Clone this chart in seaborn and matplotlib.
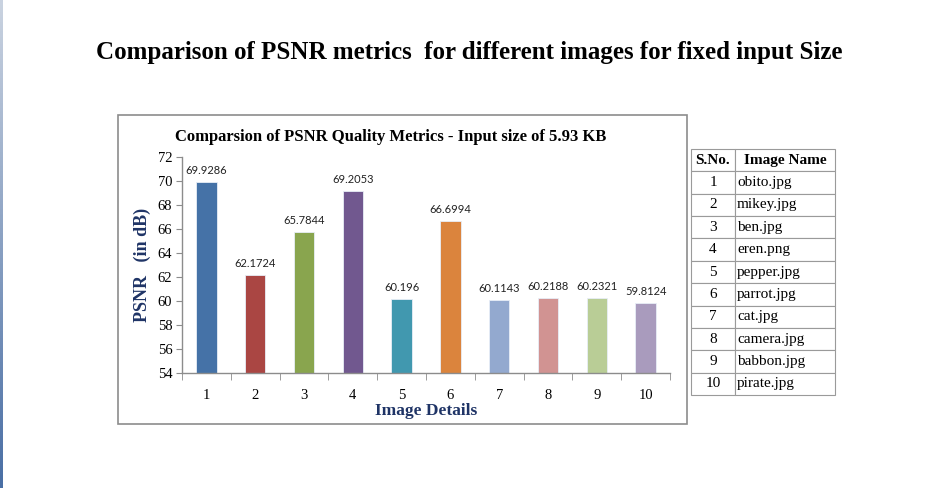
import matplotlib
matplotlib.use("Agg")
import matplotlib.pyplot as plt
import seaborn as sns
import pandas as pd
import numpy as np
from matplotlib.patches import Rectangle

# data
image_ids = [str(i) for i in range(1, 11)]
psnr_values = [69.9286, 62.1724, 65.7844, 69.2053, 60.196, 66.6994, 60.1143, 60.2188, 60.2321, 59.8124]
value_labels = ["69.9286", "62.1724", "65.7844", "69.2053", "60.196", "66.6994", "60.1143", "60.2188", "60.2321", "59.8124"]
image_names = ["obito.jpg", "mikey.jpg", "ben.jpg", "eren.png", "pepper.jpg", "parrot.jpg",
               "cat.jpg", "camera.jpg", "babbon.jpg", "pirate.jpg"]
bar_colors = ["#4572A7", "#AA4643", "#89A54E", "#71588F", "#4198AF",
              "#DB843D", "#93A9CF", "#D19392", "#B9CD96", "#A99BBD"]

sns.set_style("white")
plt.rcParams['font.family'] = ['Liberation Serif', 'DejaVu Serif']
plt.rcParams['text.color'] = 'black'
plt.rcParams['xtick.color'] = 'black'
plt.rcParams['ytick.color'] = 'black'

W, H = 926, 488
fig = plt.figure(figsize=(W / 100, H / 100), dpi=100)

def box(x0, y0, x1, y1):
    # pixel box (top-left origin) -> figure fraction rect
    return [x0 / W, (H - y1) / H, (x1 - x0) / W, (y1 - y0) / H]

# left blue strip
strip = fig.add_axes(box(0, 0, 3, 488))
strip.imshow(np.linspace(0, 1, 100).reshape(-1, 1), aspect='auto', cmap=sns.light_palette("#4A6FA5", as_cmap=True),
             vmin=-0.3, vmax=1)
strip.axis('off')

fig.text(469 / W, 1 - 52 / H, "Comparison of PSNR metrics  for different images for fixed input Size",
         ha='center', va='center', fontsize=18, fontweight='bold')

# chart frame
fig.patches.append(Rectangle((118 / W, (H - 424) / H), 569 / W, 309 / H, transform=fig.transFigure,
                             fill=False, edgecolor='#8c8c8c', linewidth=1.2))
fig.text(391 / W, 1 - 137 / H, "Comparsion of PSNR Quality Metrics - Input size of 5.93 KB",
         ha='center', va='center', fontsize=12, fontweight='bold')

df = pd.DataFrame({'image': image_ids, 'psnr': psnr_values})
ax = fig.add_axes(box(182, 157, 670, 373))
sns.barplot(data=df, x='image', y='psnr', hue='image', palette=bar_colors, legend=False, saturation=1,
            width=0.42, ax=ax, edgecolor='#e8eef7', linewidth=0.6)
ax.set_ylim(54, 72)
ax.set_xlim(-0.5, 9.5)
ax.set_yticks(range(54, 73, 2))
for i, (v, lab) in enumerate(zip(psnr_values, value_labels)):
    ax.text(i, v + 0.5, lab, ha='center', va='bottom', fontsize=8, family='Lato', color='#222222')

for s in ['top', 'right']:
    ax.spines[s].set_visible(False)
for s in ['left', 'bottom']:
    ax.spines[s].set_color('#8c8c8c')
    ax.spines[s].set_linewidth(1)
ax.tick_params(axis='y', which='major', left=True, length=4, color='#8c8c8c', labelsize=10.5, pad=3)
ax.tick_params(axis='x', which='major', bottom=False, labelsize=10.5, pad=8)
ax.set_xticks(np.arange(-0.5, 10, 1), minor=True)
ax.tick_params(axis='x', which='minor', bottom=True, length=5, color='#8c8c8c')
ax.set_xlabel("Image Details", fontsize=12.5, fontweight='bold', color='#1F3466', labelpad=1)
ax.set_ylabel("PSNR   (in dB)", fontsize=13, fontweight='bold', color='#1F3466', labelpad=5)
ax.set_facecolor('white')

# image name table
tax = fig.add_axes(box(691, 149, 835, 395))
tax.axis('off')
cells = [[str(i + 1), n] for i, n in enumerate(image_names)]
tbl = tax.table(cellText=cells, colLabels=["S.No.", "Image Name"], bbox=[0, 0, 1, 1],
                colWidths=[44 / 144, 100 / 144], cellLoc='left')
tbl.auto_set_font_size(False)
for (r, c), cell in tbl.get_celld().items():
    cell.set_edgecolor('#9a9a9a')
    cell.set_linewidth(0.8)
    cell.get_text().set_fontsize(11)
    cell.PAD = 0.02
    if c == 0 or r == 0:
        cell.get_text().set_ha('center')
        cell._loc = 'center'
    if r == 0:
        cell.get_text().set_fontweight('bold')

fig.savefig("out.png", dpi=100, facecolor='white')
